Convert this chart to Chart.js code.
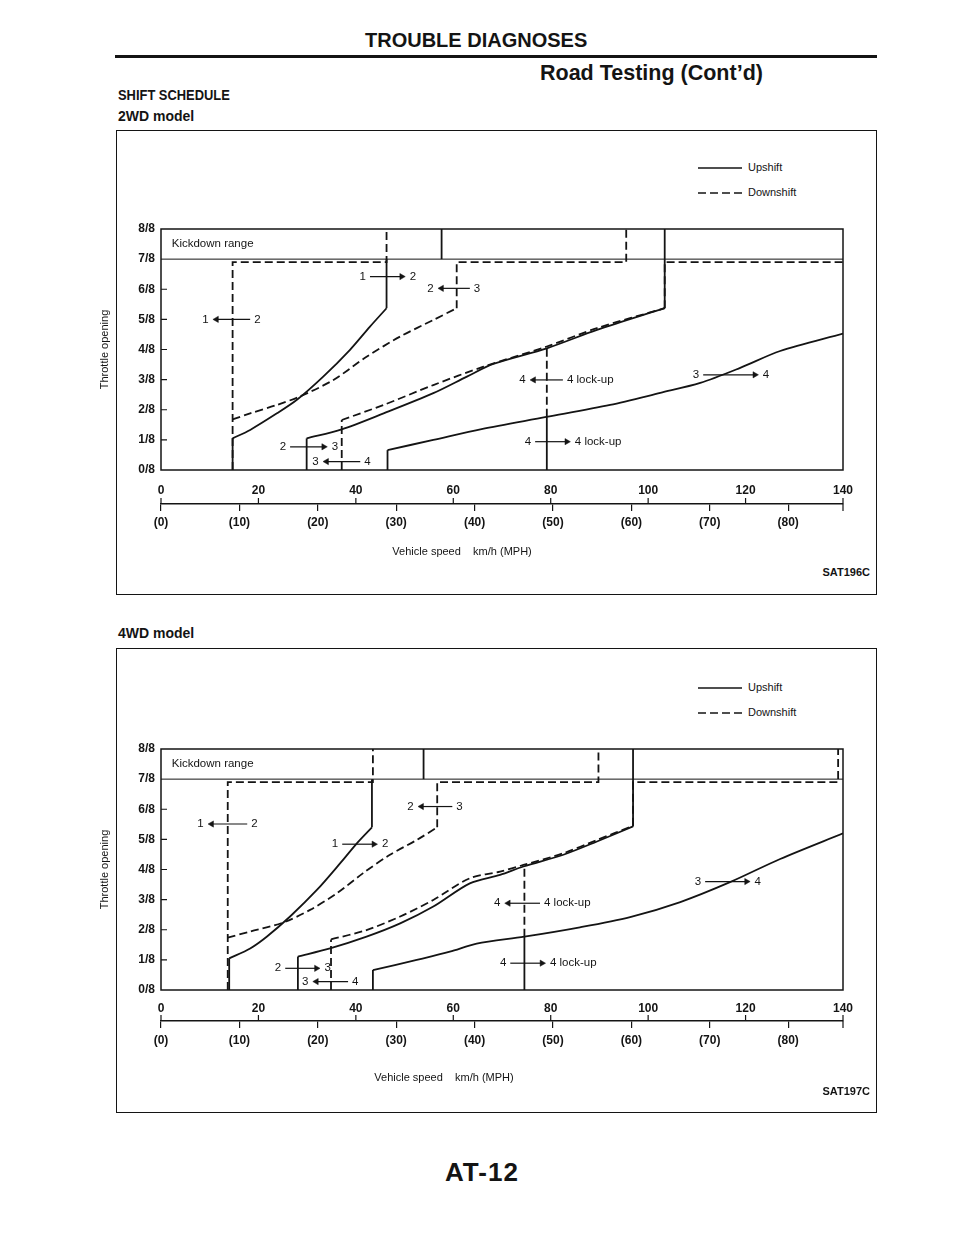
<!DOCTYPE html>
<html>
<head>
<meta charset="utf-8">
<title>Shift schedule</title>
<script src="https://cdn.jsdelivr.net/npm/chart.js@4.4.1/dist/chart.umd.min.js"></script>
<style>
  body { margin: 0; background: #fff; color: #141414; font-family: "Liberation Sans", Arial, sans-serif; }
  #page { position: relative; width: 960px; height: 1242px; overflow: hidden; }
  .t { position: absolute; line-height: 1; white-space: nowrap; font-weight: bold; transform-origin: left center; }
  .box { position: absolute; border: 1.5px solid #141414; box-sizing: border-box; }
  .rule { position: absolute; background: #141414; }
  .chart { position: absolute; }
  .leg { position: absolute; font-size: 11px; line-height: 1; white-space: nowrap; }
  .leg svg { vertical-align: middle; margin-right: 6px; }
</style>
</head>
<body>
<div id="page">
  <div class="t" style="left:365px;top:30px;font-size:20px;">TROUBLE DIAGNOSES</div>
  <div class="rule" style="left:115px;top:55px;width:762px;height:3px;"></div>
  <div class="t" style="left:540px;top:63px;font-size:21.5px;">Road Testing (Cont’d)</div>
  <div class="t" style="left:118px;top:87px;font-size:15px;transform:scaleX(0.86);">SHIFT SCHEDULE</div>
  <div class="t" style="left:118px;top:109px;font-size:14px;">2WD model</div>

  <div class="box" style="left:116px;top:130px;width:761px;height:465px;"></div>
  <div class="leg" style="left:698px;top:162px;"><svg width="44" height="4"><line x1="0" y1="2" x2="44" y2="2" stroke="#141414" stroke-width="1.6"/></svg>Upshift</div>
  <div class="leg" style="left:698px;top:187px;"><svg width="44" height="4"><line x1="0" y1="2" x2="44" y2="2" stroke="#141414" stroke-width="1.6" stroke-dasharray="8 4"/></svg>Downshift</div>
  <div class="chart" style="left:80px;top:215px;width:790px;height:345px;"><canvas id="chart2wd"></canvas></div>
  <div class="t" style="right:90px;top:567px;font-size:11px;">SAT196C</div>

  <div class="t" style="left:118px;top:626px;font-size:14px;">4WD model</div>
  <div class="box" style="left:116px;top:648px;width:761px;height:465px;"></div>
  <div class="leg" style="left:698px;top:682px;"><svg width="44" height="4"><line x1="0" y1="2" x2="44" y2="2" stroke="#141414" stroke-width="1.6"/></svg>Upshift</div>
  <div class="leg" style="left:698px;top:707px;"><svg width="44" height="4"><line x1="0" y1="2" x2="44" y2="2" stroke="#141414" stroke-width="1.6" stroke-dasharray="8 4"/></svg>Downshift</div>
  <div class="chart" style="left:80px;top:735px;width:790px;height:351px;"><canvas id="chart4wd"></canvas></div>
  <div class="t" style="right:90px;top:1086px;font-size:11px;">SAT197C</div>

  <div class="t" style="left:445px;top:1159px;font-size:26px;letter-spacing:1px;">AT-12</div>
</div>

<script>
// axes
const SPEED_KMH = [0, 20, 40, 60, 80, 100, 120, 140];
const SPEED_MPH = [0, 10, 20, 30, 40, 50, 60, 70, 80];
const THROTTLE = ['0/8', '1/8', '2/8', '3/8', '4/8', '5/8', '6/8', '7/8', '8/8'];
const KICKDOWN_LINE = [[0, 7], [140, 7]];

// 2WD model: [km/h, throttle eighths]
const wd2Up12 = [[14.7, 0], [14.7, 1.05], [18.3, 1.33], [23.8, 1.88], [27.9, 2.33], [33.3, 3.1], [38.8, 3.99], [42.9, 4.76], [46.3, 5.37], [46.3, 7]];
const wd2Up12Kick = [[57.6, 7], [57.6, 8]];
const wd2Up23 = [[29.9, 0], [29.9, 1.05], [37.1, 1.35], [45.7, 1.88], [55.9, 2.55], [62.8, 3.1], [68.2, 3.52], [79.2, 4.04], [89.5, 4.65], [103.4, 5.37], [103.4, 8]];
const wd2Up34 = [[46.5, 0], [46.5, 0.66], [55.9, 1.0], [65.8, 1.36], [79.1, 1.76], [92.2, 2.16], [102.5, 2.56], [110.7, 2.89], [118.9, 3.39], [127.1, 3.95], [140, 4.53]];
const wd2UpLock = [[79.2, 0], [79.2, 1.77]];
const wd2Dn21 = [[14.7, 0], [14.7, 6.9], [46.3, 6.9], [46.3, 8]];
const wd2Dn32 = [[14.7, 1.68], [18.3, 1.88], [23.8, 2.16], [28.5, 2.44], [35.4, 2.99], [42.2, 3.76], [49.1, 4.43], [55.9, 4.98], [60.7, 5.37], [60.7, 6.9], [95.5, 6.9], [95.5, 8]];
const wd2Dn43 = [[37.1, 0], [37.1, 1.66], [45.7, 2.16], [55.9, 2.82], [66.2, 3.43], [79.2, 4.1], [89.5, 4.71], [103.4, 5.37], [103.4, 6.9], [140, 6.9]];
const wd2DnLock = [[79.2, 1.77], [79.2, 4.1]];
// arrows: [from, to, throttle, left text, right text]
const wd2Arrows = [
  [42.9, 49.4, 6.42, '1', '2'], [63.4, 57.6, 6.03, '2', '3'], [18.3, 11.4, 5.0, '1', '2'],
  [26.5, 33.4, 0.77, '2', '3'], [40.9, 34.0, 0.28, '3', '4'], [82.5, 76.5, 2.99, '4', '4 lock-up'],
  [76.8, 83.3, 0.94, '4', '4 lock-up'], [111.3, 121.9, 3.16, '3', '4']
];

// 4WD model
const wd4Up12 = [[14.0, 0], [14.0, 1.05], [18.3, 1.38], [21.7, 1.77], [26.5, 2.44], [32.0, 3.32], [36.8, 4.21], [40.2, 4.87], [43.3, 5.4], [43.3, 7]];
const wd4Up12Kick = [[53.9, 7], [53.9, 8]];
const wd4Up23 = [[28.1, 0], [28.1, 1.11], [34.7, 1.38], [42.2, 1.77], [49.1, 2.21], [55.9, 2.77], [63.4, 3.54], [69.6, 3.82], [74.4, 4.1], [82.6, 4.49], [89.5, 4.93], [96.9, 5.43], [96.9, 8]];
const wd4Up34 = [[43.5, 0], [43.5, 0.66], [52.5, 1.0], [59.3, 1.27], [64.8, 1.54], [74.6, 1.77], [86.0, 2.08], [96.3, 2.42], [106.6, 2.92], [116.8, 3.58], [127.1, 4.35], [140, 5.2]];
const wd4UpLock = [[74.6, 0], [74.6, 1.77]];
const wd4Dn21 = [[13.7, 0], [13.7, 6.9], [43.5, 6.9], [43.5, 8]];
const wd4Dn32 = [[13.7, 1.74], [18.3, 1.94], [25.1, 2.24], [30.6, 2.66], [36.1, 3.21], [41.5, 3.88], [47.0, 4.49], [52.5, 4.98], [56.7, 5.4], [56.7, 6.9], [89.8, 6.9], [89.8, 8]];
const wd4Dn43 = [[34.9, 0], [34.9, 1.68], [42.2, 1.99], [49.1, 2.44], [55.9, 2.99], [63.4, 3.71], [69.6, 3.93], [74.4, 4.15], [82.6, 4.54], [89.5, 4.98], [96.9, 5.45], [96.9, 6.9], [139, 6.9], [139, 8]];
const wd4DnLock = [[74.6, 1.77], [74.6, 4.1]];
const wd4Arrows = [
  [17.7, 10.4, 5.51, '1', '2'], [59.8, 53.5, 6.09, '2', '3'], [37.2, 43.7, 4.84, '1', '2'],
  [25.5, 31.9, 0.72, '2', '3'], [38.4, 31.9, 0.28, '3', '4'], [77.8, 71.3, 2.88, '4', '4 lock-up'],
  [71.7, 78.2, 0.89, '4', '4 lock-up'], [111.7, 120.2, 3.6, '3', '4']
];

const INK = '#141414';
const FONT = '"Liberation Sans", Arial, sans-serif';
Chart.defaults.font.family = FONT;
Chart.defaults.color = INK;

// split a shift line into straight (vertical/horizontal) and curved runs
function runs(pts) {
  const out = [];
  let cur = [pts[0]], curved = null;
  for (let i = 1; i < pts.length; i++) {
    const a = pts[i - 1], b = pts[i];
    const c = !(a[0] === b[0] || a[1] === b[1]);
    if (curved === null) curved = c;
    if (c !== curved) { out.push({ pts: cur, curved }); cur = [a]; curved = c; }
    cur.push(b);
  }
  out.push({ pts: cur, curved });
  return out;
}

function lineSets(points, dashed, width) {
  return runs(points).map(r => ({
    data: r.pts.map(p => ({ x: p[0], y: p[1] })),
    borderColor: INK, borderWidth: width || 1.8, borderDash: dashed ? [8, 4] : [],
    tension: r.curved ? 0.3 : 0, pointRadius: 0, fill: false
  }));
}

function arrowSet(a) {
  const from = a[0], to = a[1], y = a[2];
  return {
    data: [{ x: from, y }, { x: to, y }],
    borderColor: INK, borderWidth: 1.2, tension: 0,
    pointRadius: [0, 3.6], pointStyle: 'triangle', pointRotation: [0, to > from ? 90 : -90],
    pointBackgroundColor: INK, pointBorderColor: INK, pointBorderWidth: 0.5
  };
}

function framePlugin(cfg) {
  return {
    id: 'frame',
    afterDatasetsDraw(chart) {
      const { ctx, chartArea: a } = chart;
      const { x, y, x2 } = chart.scales;
      ctx.save();
      ctx.setLineDash([]);
      ctx.strokeStyle = INK;
      ctx.lineWidth = 1.5;
      ctx.strokeRect(a.left, a.top, a.right - a.left, a.bottom - a.top);
      ctx.lineWidth = 1.2;
      ctx.beginPath();
      for (let v = 1; v < 7; v++) {
        const py = y.getPixelForValue(v);
        ctx.moveTo(a.left, py); ctx.lineTo(a.left + 6, py);
      }
      // km/h ticks point up from the speed axis line
      SPEED_KMH.forEach(v => {
        const px = x.getPixelForValue(v);
        ctx.moveTo(px, x2.top); ctx.lineTo(px, x2.top - 6);
      });
      ctx.moveTo(x2.right, x2.top); ctx.lineTo(x2.right, x2.top + 7);
      ctx.stroke();

      ctx.fillStyle = INK;
      ctx.textBaseline = 'middle';
      ctx.font = '11.5px ' + FONT;
      cfg.notes.forEach(n => {
        ctx.textAlign = 'left';
        ctx.fillText(n[0], x.getPixelForValue(n[1]), y.getPixelForValue(n[2]));
      });
      cfg.arrows.forEach(r => {
        const right = r[1] > r[0];
        const l = x.getPixelForValue(Math.min(r[0], r[1]));
        const rr = x.getPixelForValue(Math.max(r[0], r[1]));
        const py = y.getPixelForValue(r[2]);
        ctx.textAlign = 'right'; ctx.fillText(r[3], l - (right ? 4 : 8), py);
        ctx.textAlign = 'left'; ctx.fillText(r[4], rr + (right ? 8 : 4), py);
      });
      ctx.font = '11px ' + FONT;
      ctx.textAlign = 'center';
      ctx.fillText('Vehicle speed    km/h (MPH)', x.getPixelForValue(cfg.titleAt), x2.bottom - 8);
      ctx.restore();
    }
  };
}

function shiftChart(id, cfg) {
  const datasets = [];
  datasets.push(...lineSets(KICKDOWN_LINE, false, 1));
  cfg.up.forEach(p => datasets.push(...lineSets(p, false)));
  cfg.down.forEach(p => datasets.push(...lineSets(p, true)));
  cfg.arrows.forEach(a => datasets.push(arrowSet(a)));

  new Chart(document.getElementById(id), {
    type: 'line',
    data: { datasets },
    options: {
      responsive: true, maintainAspectRatio: false, animation: false, events: [],
      layout: { padding: { top: 14, right: 27, left: 0, bottom: 0 } },
      plugins: { legend: { display: false }, tooltip: { enabled: false } },
      scales: {
        x: {
          type: 'linear', position: 'bottom', min: 0, max: 140,
          grid: { display: false, drawTicks: false }, border: { display: false },
          ticks: { stepSize: 20, autoSkip: false, maxRotation: 0, padding: cfg.kmhPad, font: { size: 12, weight: 'bold' }, color: INK },
          afterBuildTicks: s => { s.ticks = SPEED_KMH.map(v => ({ value: v })); },
          afterFit: s => { s.height = cfg.kmhH; }
        },
        x2: {
          type: 'linear', position: 'bottom', min: 0, max: 140,
          grid: { display: true, drawOnChartArea: false, drawTicks: true, tickLength: 7, color: INK, lineWidth: 1.2 },
          border: { display: true, color: INK, width: 1.5 },
          ticks: { autoSkip: false, maxRotation: 0, padding: cfg.mphPad, font: { size: 12, weight: 'bold' }, color: INK,
            callback: (v, i) => '(' + SPEED_MPH[i] + ')' },
          afterBuildTicks: s => { s.ticks = SPEED_MPH.map(m => ({ value: m * 1.609344 })); },
          afterFit: s => { s.height = cfg.mphH; }
        },
        y: {
          type: 'linear', min: 0, max: 8,
          grid: { display: false, drawTicks: false }, border: { display: false },
          ticks: { stepSize: 1, padding: 6, font: { size: 12, weight: 'bold' }, color: INK,
            callback: v => THROTTLE[v] },
          title: { display: true, text: 'Throttle opening', font: { size: 11 }, color: INK, padding: { top: 18, bottom: 0 } },
          afterFit: s => { s.width = 81; }
        }
      }
    },
    plugins: [framePlugin(cfg)]
  });
}

shiftChart('chart2wd', {
  up: [wd2Up12, wd2Up12Kick, wd2Up23, wd2Up34, wd2UpLock],
  down: [wd2Dn21, wd2Dn32, wd2Dn43, wd2DnLock],
  arrows: wd2Arrows,
  notes: [['Kickdown range', 2.2, 7.5]],
  titleAt: 61.8, kmhPad: 13, kmhH: 34, mphPad: 4, mphH: 56
});

shiftChart('chart4wd', {
  up: [wd4Up12, wd4Up12Kick, wd4Up23, wd4Up34, wd4UpLock],
  down: [wd4Dn21, wd4Dn32, wd4Dn43, wd4DnLock],
  arrows: wd4Arrows,
  notes: [['Kickdown range', 2.2, 7.5]],
  titleAt: 58.1, kmhPad: 11, kmhH: 31, mphPad: 5, mphH: 65
});
</script>
</body>
</html>
